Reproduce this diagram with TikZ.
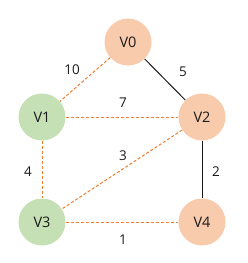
\documentclass[tikz,border=0pt]{standalone}
\usepackage{fontspec}
\setmainfont{Open Sans}
\definecolor{nodeorange}{HTML}{F8CBAD}
\definecolor{nodegreen}{HTML}{C5E0B4}
\definecolor{edgeorange}{HTML}{ED7D31}
\definecolor{txt}{HTML}{1A1A1A}
\begin{document}
\begin{tikzpicture}[x=1pt,y=-1pt,
  vtx/.style={circle,minimum size=47pt,inner sep=0pt,text=txt,font=\fontsize{14.5}{16}\selectfont},
  ovtx/.style={vtx,fill=nodeorange},
  gvtx/.style={vtx,fill=nodegreen},
  dedge/.style={draw=edgeorange,line width=1pt,dash pattern=on 3pt off 2pt},
  sedge/.style={draw=txt,line width=1pt},
  wlab/.style={text=txt,font=\fontsize{13.5}{15}\selectfont}]
\useasboundingbox (0,0) rectangle (248,263);
\node[ovtx] (v0) at (128,42) {V0};
\node[gvtx] (v1) at (42,117) {V1};
\node[ovtx] (v2) at (202,117) {V2};
\node[gvtx] (v3) at (42,222) {V3};
\node[ovtx] (v4) at (202,222) {V4};
\draw[dedge] (v0) -- (v1);
\draw[dedge] (v1) -- (v2);
\draw[dedge] (v2) -- (v3);
\draw[dedge] (v1) -- (v3);
\draw[dedge] (v3) -- (v4);
\draw[sedge] (v0) -- (v2);
\draw[sedge] (v2) -- (v4);
\node[wlab] (l10) at (72,70) {10};
\node[wlab] (l5) at (183,72) {5};
\node[wlab] (l7) at (123,103) {7};
\node[wlab] (l3) at (123,156) {3};
\node[wlab] (l4) at (28,172) {4};
\node[wlab] (l2) at (216,172) {2};
\node[wlab] (l1) at (123,240) {1};
\end{tikzpicture}
\end{document}
